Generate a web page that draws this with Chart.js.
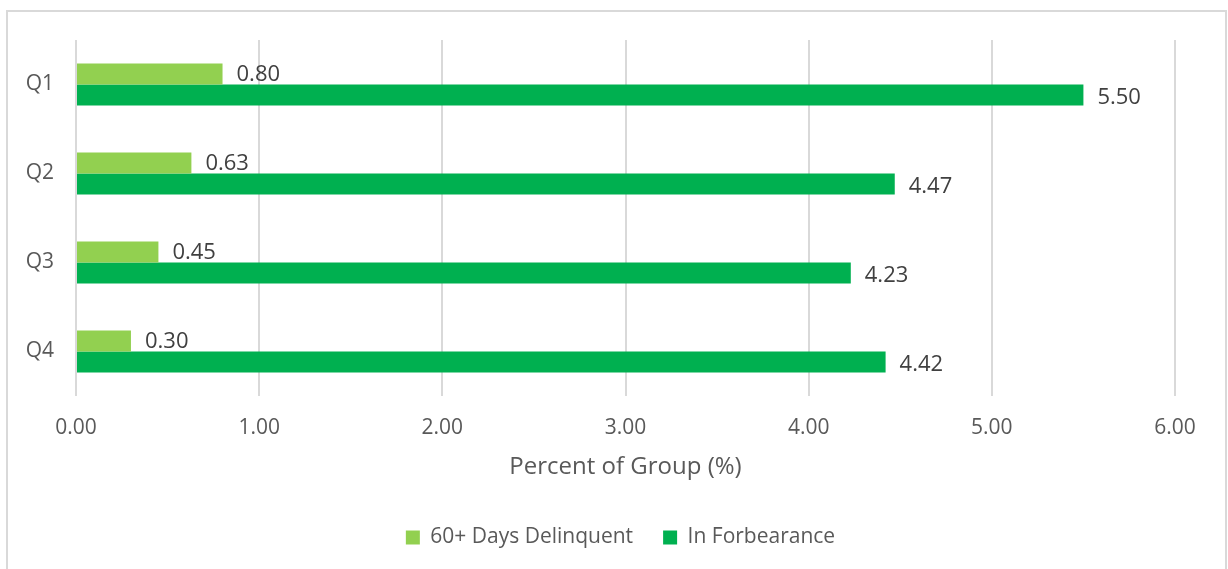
<!DOCTYPE html>
<html>
<head>
<meta charset="utf-8">
<script src="https://cdn.jsdelivr.net/npm/chart.js@4.4.1/dist/chart.umd.min.js"></script>
<style>
  html, body { margin: 0; padding: 0; background: #fff; overflow: hidden; }
  #wrap { position: relative; width: 1228px; height: 569px; overflow: hidden; }
  #frame { position: absolute; left: 6px; top: 10px; width: 1221px; height: 600px;
           box-sizing: border-box; border: 2px solid #d9d9d9; pointer-events: none; }
  canvas { position: absolute; left: 0; top: 0; }
</style>
</head>
<body>
<div id="wrap">
  <canvas id="chart" width="1228" height="576" style="width:1228px;height:576px"></canvas>
  <div id="frame"></div>
</div>
<script>
const quarters = ["Q1", "Q2", "Q3", "Q4"];
const delinquent = [0.80, 0.63, 0.45, 0.30];
const forbearance = [5.50, 4.47, 4.23, 4.42];
const seriesNames = ["60+ Days Delinquent", "In Forbearance"];
const xTicks = [0, 1, 2, 3, 4, 5, 6];

const FONT = "'Open Sans', 'Noto Sans', sans-serif";

// value labels at the end of each bar
const valueLabels = {
    id: "valueLabels",
    afterDatasetsDraw(chart) {
        const ctx = chart.ctx;
        ctx.save();
        ctx.font = "22px " + FONT;
        ctx.fillStyle = "#404040";
        ctx.textAlign = "left";
        ctx.textBaseline = "middle";
        chart.data.datasets.forEach((ds, i) => {
            const meta = chart.getDatasetMeta(i);
            meta.data.forEach((bar, j) => {
                ctx.fillText(ds.data[j].toFixed(2), bar.x + 14, bar.y + (i == 0 ? 1 : 3));
            });
        });
        ctx.restore();
    }
};

// legend is centred under the whole frame, not the plot
const legendShift = {
    id: "legendShift",
    afterLayout(chart) {
        chart.legend.left += 33;
        chart.legend.right += 33;
    }
};

new Chart(document.getElementById("chart"), {
    type: "bar",
    data: {
        labels: quarters,
        datasets: [{
            label: seriesNames[0],
            data: delinquent,
            backgroundColor: "#92d050",
            categoryPercentage: 0.47,
            barPercentage: 1.0
        }, {
            label: seriesNames[1],
            data: forbearance,
            backgroundColor: "#00b050",
            categoryPercentage: 0.47,
            barPercentage: 1.0
        }]
    },
    options: {
        indexAxis: "y",
        responsive: false,
        animation: false,
        layout: { padding: { top: 40, right: 53, left: 0, bottom: 18 } },
        scales: {
            x: {
                min: 0,
                max: 6,
                afterBuildTicks: (s) => { s.ticks = xTicks.map(v => ({ value: v })); },
                afterFit: (s) => { s.height = 101; s.paddingLeft = 0; s.paddingRight = 0; },
                grid: { color: "#d9d9d9", lineWidth: 2, drawTicks: false },
                border: { display: false },
                ticks: {
                    padding: 19,
                    color: "#595959",
                    font: { family: FONT, size: 21 },
                    callback: (v) => Number(v).toFixed(2)
                },
                title: {
                    display: true,
                    text: "Percent of Group (%)",
                    color: "#595959",
                    font: { family: FONT, size: 24 },
                    padding: { top: 0, bottom: 15 }
                }
            },
            y: {
                afterFit: (s) => { s.width = 76; },
                grid: { display: false, drawTicks: false },
                border: { display: false },
                ticks: {
                    padding: 22,
                    color: "#595959",
                    font: { family: FONT, size: 21 }
                }
            }
        },
        plugins: {
            legend: {
                position: "bottom",
                labels: {
                    boxWidth: 14,
                    boxHeight: 14,
                    padding: 30,
                    color: "#595959",
                    font: { family: FONT, size: 21 }
                }
            },
            tooltip: { enabled: false }
        }
    },
    plugins: [valueLabels, legendShift]
});
</script>
</body>
</html>
